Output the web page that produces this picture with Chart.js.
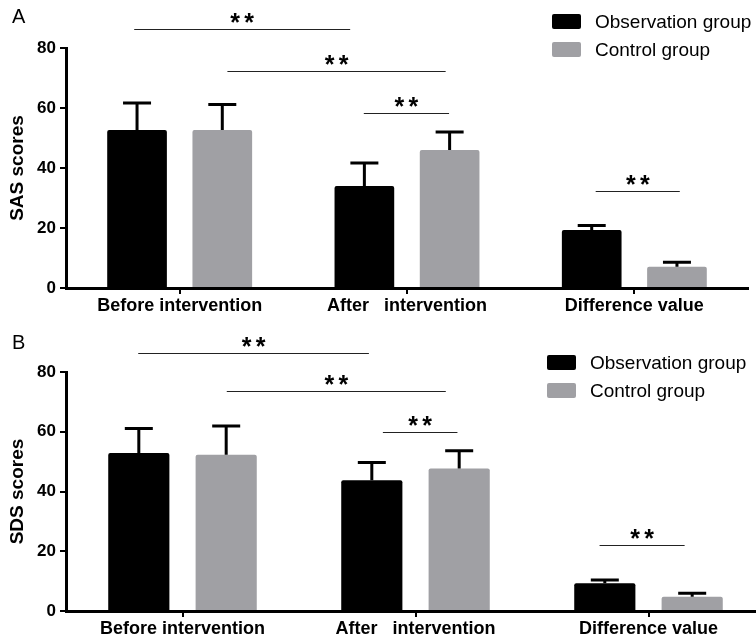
<!DOCTYPE html>
<html>
<head>
<meta charset="utf-8">
<script src="https://cdn.jsdelivr.net/npm/chart.js@4.4.0/dist/chart.umd.min.js"></script>
<style>
    body { margin: 0; background: #fff; width: 756px; overflow: hidden; }
    .panel { position: relative; width: 756px; overflow: hidden; }
    .letter { position: absolute; left: 12px; font: 20px "Liberation Sans", Arial, sans-serif; color: #000; }
</style>
</head>
<body>
<div class="panel" style="height:320px">
    <span class="letter" style="top:5px">A</span>
    <canvas id="chartA" width="756" height="320"></canvas>
</div>
<div class="panel" style="height:323px">
    <span class="letter" style="top:11px">B</span>
    <canvas id="chartB" width="770" height="323"></canvas>
</div>
<script>
const groups = ['Before intervention', 'After   intervention', 'Difference value'];
const seriesNames = ['Observation group', 'Control group'];

// panel A - SAS scores (mean and SD)
const sasObs = [52.7, 34.0, 19.3];
const sasObsSd = [9.0, 7.7, 1.5];
const sasCtrl = [52.7, 46.0, 7.1];
const sasCtrlSd = [8.5, 6.0, 1.5];

// panel B - SDS scores
const sdsObs = [52.9, 43.8, 9.3];
const sdsObsSd = [8.2, 5.9, 1.1];
const sdsCtrl = [52.3, 47.7, 4.8];
const sdsCtrlSd = [9.6, 5.9, 1.1];

const yTicks = [0, 20, 40, 60, 80];

// significance brackets: level on y scale, start/end in category units
const sasSigLevel = [86.3, 72.3, 58.3, 32.3];
const sasSigFrom = [-0.2, 0.21, 0.81, 1.83];
const sasSigTo = [0.75, 1.17, 1.185, 2.2];
const sdsSigLevel = [86.5, 73.7, 60.0, 22.0];
const sdsSigFrom = [-0.19, 0.19, 0.86, 1.79];
const sdsSigTo = [0.8, 1.13, 1.18, 2.155];

const FONT = '"Liberation Sans", Arial, sans-serif';

// draws the upper SD whisker on every bar
const errorBars = {
    id: 'errorBars',
    afterDatasetsDraw(chart) {
        const ctx = chart.ctx;
        const y = chart.scales.y;
        ctx.save();
        ctx.strokeStyle = '#000';
        ctx.lineWidth = 3;
        chart.data.datasets.forEach((ds, i) => {
            chart.getDatasetMeta(i).data.forEach((bar, j) => {
                const top = y.getPixelForValue(ds.data[j] + ds.sd[j]);
                ctx.beginPath();
                ctx.moveTo(bar.x, bar.y);
                ctx.lineTo(bar.x, top);
                ctx.moveTo(bar.x - 14, top);
                ctx.lineTo(bar.x + 14, top);
                ctx.stroke();
            });
        });
        ctx.restore();
    }
};

// draws the ** lines and the legend
const extras = {
    id: 'extras',
    afterDraw(chart, args, opts) {
        const ctx = chart.ctx;
        const x = chart.scales.x;
        const y = chart.scales.y;
        ctx.save();
        opts.level.forEach((lv, i) => {
            const py = Math.round(y.getPixelForValue(lv)) + 0.5;
            const x1 = x.getPixelForValue(opts.from[i]);
            const x2 = x.getPixelForValue(opts.to[i]);
            const mid = (x1 + x2) / 2;
            ctx.strokeStyle = '#222';
            ctx.lineWidth = 1.2;
            ctx.beginPath();
            ctx.moveTo(x1, py);
            ctx.lineTo(x2, py);
            ctx.stroke();
            ctx.fillStyle = '#000';
            ctx.font = 'bold 25px ' + FONT;
            ctx.textAlign = 'center';
            ctx.textBaseline = 'alphabetic';
            // two stars, a little apart like the original
            ctx.fillText('*', mid - 7, py + 1);
            ctx.fillText('*', mid + 7, py + 1);
        });
        // legend
        chart.data.datasets.forEach((ds, i) => {
            const cy = opts.legendY + i * 28;
            ctx.fillStyle = ds.backgroundColor;
            ctx.beginPath();
            ctx.roundRect(opts.legendX, cy - 7.5, 29, 15, 2);
            ctx.fill();
            ctx.fillStyle = '#000';
            ctx.font = '19px ' + FONT;
            ctx.textAlign = 'left';
            ctx.textBaseline = 'middle';
            ctx.fillText(ds.label, opts.textX, cy + 1);
        });
        ctx.restore();
    }
};

function createChart(id, obs, obsSd, ctrl, ctrlSd, title, layout, sig) {
    const ctx = document.getElementById(id);
    return new Chart(ctx, {
        type: 'bar',
        data: {
            labels: groups,
            datasets: [
                {
                    label: seriesNames[0],
                    data: obs,
                    sd: obsSd,
                    backgroundColor: '#000000',
                    borderRadius: 2,
                    borderSkipped: 'bottom',
                },
                {
                    label: seriesNames[1],
                    data: ctrl,
                    sd: ctrlSd,
                    backgroundColor: '#a0a0a4',
                    borderRadius: 2,
                    borderSkipped: 'bottom',
                },
            ]
        },
        options: {
            responsive: false,
            animation: false,
            devicePixelRatio: 1,
            categoryPercentage: 0.75,
            barPercentage: 0.7,
            layout: {
                padding: { left: 0, top: layout.top, right: layout.right, bottom: 0 }
            },
            scales: {
                x: {
                    grid: { display: true, offset: false, drawOnChartArea: false, drawTicks: true, tickLength: 6, tickColor: '#000', tickWidth: 2, color: '#000', lineWidth: 2 },
                    border: { display: true, color: '#000', width: 3 },
                    ticks: {
                        color: '#000',
                        padding: 1,
                        maxRotation: 0,
                        autoSkip: false,
                        font: { family: FONT, size: 18, weight: 'bold' }
                    },
                    afterFit: s => { s.height = layout.xHeight; }
                },
                y: {
                    min: 0,
                    max: 80,
                    afterBuildTicks: s => { s.ticks = yTicks.map(v => ({ value: v })); },
                    grid: { display: true, drawOnChartArea: false, drawTicks: true, tickLength: 6, color: '#000', lineWidth: 2 },
                    border: { display: true, color: '#000', width: 3 },
                    ticks: {
                        color: '#000',
                        padding: 4,
                        font: { family: FONT, size: 17, weight: 'bold' }
                    },
                    title: {
                        display: true,
                        text: title,
                        color: '#000',
                        padding: { top: 6, bottom: 0 },
                        font: { family: FONT, size: 19, weight: 'bold' }
                    },
                    afterFit: s => { s.width = 66; }
                }
            },
            plugins: {
                legend: { display: false },
                tooltip: { enabled: false },
                extras: {
                    level: sig.level, from: sig.from, to: sig.to,
                    legendX: layout.legendX, legendY: layout.legendY, textX: layout.textX
                }
            }
        },
        plugins: [errorBars, extras]
    });
}

createChart('chartA', sasObs, sasObsSd, sasCtrl, sasCtrlSd, 'SAS scores',
    { top: 48, right: 8, xHeight: 32, legendX: 552, legendY: 21.5, textX: 595 },
    { level: sasSigLevel, from: sasSigFrom, to: sasSigTo });
createChart('chartB', sdsObs, sdsObsSd, sdsCtrl, sdsCtrlSd, 'SDS scores',
    { top: 52, right: 5, xHeight: 32, legendX: 547, legendY: 42.5, textX: 590 },
    { level: sdsSigLevel, from: sdsSigFrom, to: sdsSigTo });
</script>
</body>
</html>
